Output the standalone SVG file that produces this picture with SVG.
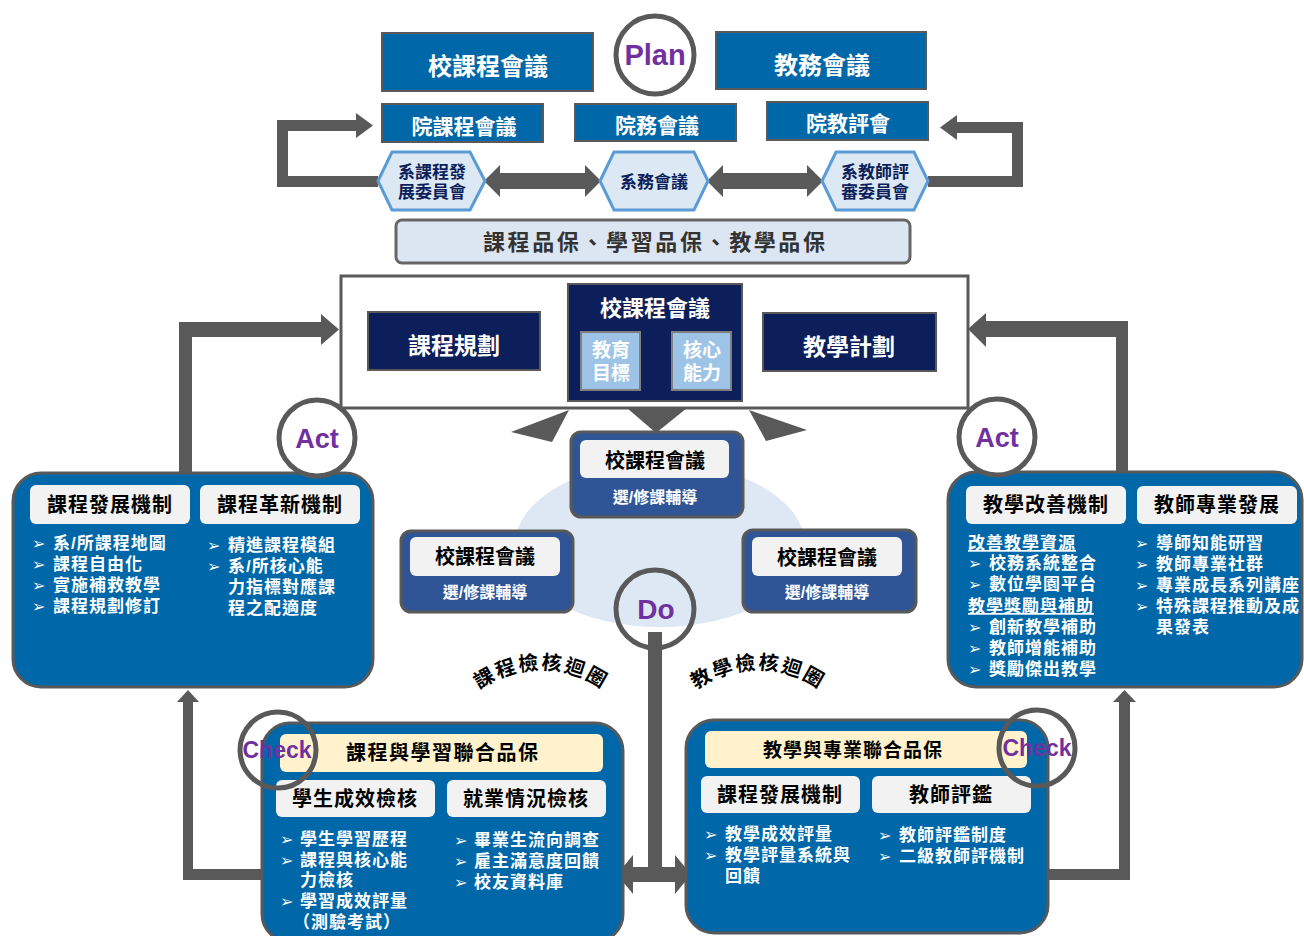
<svg xmlns="http://www.w3.org/2000/svg" width="1304" height="936" viewBox="0 0 1304 936">
<defs>
<style>
.t{font-family:"Liberation Sans","Noto Sans CJK TC",sans-serif;font-weight:bold}
.w{fill:#ffffff}
.k{fill:#000000}
.mid{text-anchor:middle}
.blue{fill:#0068a8;stroke:#595959;stroke-width:2}
.navy{fill:#0c1f5b;stroke:#595959;stroke-width:2}
.hex{fill:#dde8f5;stroke:#5b9bd5;stroke-width:3}
.hext{fill:#0c1f5b;font-size:17px}
.big{fill:#0068a8;stroke:#595959;stroke-width:3}
.hdr{fill:#f2f2f2}
.tan{fill:#fff2cc}
.med{fill:#2f5597;stroke:#595959;stroke-width:3}
.li{font-size:17px;fill:#ffffff;letter-spacing:1px}
.hd{font-size:20px;fill:#000000;letter-spacing:1px;text-anchor:middle}
.bu{font-family:"DejaVu Sans",sans-serif;font-size:16px;fill:#ffffff}
.ring{fill:none;stroke:#595959;stroke-width:5}
.ringw{fill:#ffffff;stroke:#595959;stroke-width:5}
.pdca{font-family:"Liberation Sans",Arial,sans-serif;font-weight:bold;fill:#7030a0;text-anchor:middle}
.g{fill:#595959}
.arc{font-size:20px;fill:#000000;letter-spacing:2px}
</style>
<path id="arcL" d="M 462 705 A 106 106 0 0 1 620 705" fill="none"/>
<path id="arcR" d="M 679 705 A 106 106 0 0 1 837 705" fill="none"/>
</defs>
<rect width="1304" height="936" fill="#ffffff"/>

<ellipse cx="660" cy="545" rx="145" ry="82" fill="#dde8f4"/>

<g id="connectors">
<rect class="g" x="277" y="176" width="101" height="11"/>
<rect class="g" x="277" y="120" width="11" height="67"/>
<rect class="g" x="277" y="120" width="81" height="11"/>
<polygon class="g" points="356,113 373,125.5 356,138"/>
<rect class="g" x="928" y="176" width="95" height="11"/>
<rect class="g" x="1012" y="122" width="11" height="65"/>
<rect class="g" x="955" y="122" width="68" height="11"/>
<polygon class="g" points="957,115 940,127.5 957,140"/>
<polygon class="g" points="484,181 500,165 500,173 585,173 585,165 601,181 585,197 585,189 500,189 500,197"/>
<polygon class="g" points="707,181 723,165 723,173 807,173 807,165 823,181 807,197 807,189 723,189 723,197"/>
<polygon class="g" points="511,432 569,410 552,442"/>
<polygon class="g" points="627,408 687,408 656,433"/>
<polygon class="g" points="749,410 807,430 766,441"/>
<rect class="g" x="179" y="322" width="13" height="152"/>
<rect class="g" x="179" y="322" width="144" height="15"/>
<polygon class="g" points="321,314 339,329.5 321,345"/>
<rect class="g" x="1116" y="321" width="12" height="153"/>
<rect class="g" x="984" y="321" width="144" height="16"/>
<polygon class="g" points="986,313 968,329 986,347"/>
<rect class="g" x="183" y="700" width="10" height="180"/>
<rect class="g" x="183" y="869" width="80" height="11"/>
<polygon class="g" points="177,702 188,690 199,702"/>
<rect class="g" x="1119" y="700" width="11" height="180"/>
<rect class="g" x="1047" y="869" width="83" height="11"/>
<polygon class="g" points="1113,702 1124.5,690 1136,702"/>
<rect class="g" x="648" y="632" width="14" height="240"/>
<polygon class="g" points="617,874.5 633,855 633,867 675,867 675,855 691,874.5 675,894 675,882 633,882 633,894"/>
</g>

<g id="plan-circle">
<circle class="ringw" cx="655" cy="55" r="39"/>
<text class="pdca" x="655" y="65" font-size="29">Plan</text>
</g>
<g id="school-curriculum-top">
<rect class="blue" x="382" y="33" width="211" height="58"/>
<text class="t w mid" x="488" y="75" font-size="24">校課程會議</text>
</g>
<g id="academic-affairs">
<rect class="blue" x="716" y="32" width="210" height="57"/>
<text class="t w mid" x="822" y="74" font-size="24">教務會議</text>
</g>
<g id="college-curriculum">
<rect class="blue" x="382" y="104" width="161" height="38"/>
<text class="t w mid" x="464" y="134" font-size="21">院課程會議</text>
</g>
<g id="college-affairs">
<rect class="blue" x="575" y="104" width="161" height="37"/>
<text class="t w mid" x="657" y="133" font-size="21">院務會議</text>
</g>
<g id="college-review">
<rect class="blue" x="767" y="102" width="161" height="38"/>
<text class="t w mid" x="848" y="131" font-size="21">院教評會</text>
</g>
<g id="dept-curriculum">
<polygon class="hex" points="378,181 392,152 470,152 485,181 470,210 392,210"/>
<text class="t hext mid" x="432" y="178">系課程發</text>
<text class="t hext mid" x="432" y="198">展委員會</text>
</g>
<g id="dept-affairs">
<polygon class="hex" points="600,181 614,152 694,152 708,181 694,210 614,210"/>
<text class="t hext mid" x="654" y="188">系務會議</text>
</g>
<g id="dept-review">
<polygon class="hex" points="822,181 836,152 914,152 928,181 914,210 836,210"/>
<text class="t hext mid" x="875" y="178">系教師評</text>
<text class="t hext mid" x="875" y="198">審委員會</text>
</g>
<g id="quality-bar">
<rect x="396" y="220" width="514" height="43" rx="6" fill="#dce6f2" stroke="#666666" stroke-width="3"/>
<text class="t mid" x="654" y="250" font-size="22" fill="#333333" textLength="342" lengthAdjust="spacing">課程品保、學習品保、教學品保</text>
</g>

<g id="plan-frame">
<rect x="341" y="276" width="627" height="132" fill="#ffffff" stroke="#595959" stroke-width="3"/>
</g>
<g id="curriculum-planning">
<rect class="navy" x="368" y="312" width="172" height="58"/>
<text class="t w mid" x="454" y="354" font-size="23">課程規劃</text>
</g>
<g id="school-curriculum-center">
<rect class="navy" x="568" y="284" width="174" height="117"/>
<text class="t w mid" x="655" y="316" font-size="22">校課程會議</text>
<rect x="581" y="332" width="59" height="58" fill="#9dc3e6" stroke="#7f7f7f" stroke-width="2"/>
<text class="t w mid" x="611" y="357" font-size="19">教育</text>
<text class="t w mid" x="611" y="380" font-size="19">目標</text>
<rect x="672" y="332" width="59" height="58" fill="#9dc3e6" stroke="#7f7f7f" stroke-width="2"/>
<text class="t w mid" x="702" y="357" font-size="19">核心</text>
<text class="t w mid" x="702" y="380" font-size="19">能力</text>
</g>
<g id="teaching-plan">
<rect class="navy" x="763" y="313" width="173" height="58"/>
<text class="t w mid" x="849" y="355" font-size="23">教學計劃</text>
</g>

<g id="advising-center">
<rect class="med" x="571" y="432" width="172" height="85" rx="10"/>
<rect class="hdr" x="580" y="440" width="149" height="38" rx="6"/>
<text class="t k mid" x="655" y="468" font-size="20">校課程會議</text>
<text class="t w mid" x="655" y="503" font-size="16">選/修課輔導</text>
</g>
<g id="advising-left">
<rect class="med" x="401" y="531" width="172" height="81" rx="10"/>
<rect class="hdr" x="410" y="537" width="150" height="39" rx="6"/>
<text class="t k mid" x="485" y="564" font-size="20">校課程會議</text>
<text class="t w mid" x="485" y="598" font-size="16">選/修課輔導</text>
</g>
<g id="advising-right">
<rect class="med" x="743" y="530" width="173" height="82" rx="10"/>
<rect class="hdr" x="752" y="537" width="150" height="39" rx="6"/>
<text class="t k mid" x="827" y="565" font-size="20">校課程會議</text>
<text class="t w mid" x="827" y="598" font-size="16">選/修課輔導</text>
</g>
<g id="do-circle">
<circle class="ring" cx="655" cy="609" r="39"/>
<text class="pdca" x="656" y="619" font-size="28">Do</text>
</g>
<g id="loop-labels">
<text class="t arc"><textPath href="#arcL" startOffset="50%" text-anchor="middle">課程檢核迴圈</textPath></text>
<text class="t arc"><textPath href="#arcR" startOffset="50%" text-anchor="middle">教學檢核迴圈</textPath></text>
</g>

<g id="act-left-box">
<rect class="big" x="13" y="473" width="360" height="214" rx="28"/>
<rect class="hdr" x="30" y="485" width="160" height="39" rx="6"/>
<text class="t hd" x="110" y="512">課程發展機制</text>
<rect class="hdr" x="200" y="485" width="160" height="39" rx="6"/>
<text class="t hd" x="280" y="512">課程革新機制</text>
<text class="bu" x="32" y="549">➢</text><text class="t li" x="53" y="549">系/所課程地圖</text>
<text class="bu" x="32" y="570">➢</text><text class="t li" x="53" y="570">課程自由化</text>
<text class="bu" x="32" y="591">➢</text><text class="t li" x="53" y="591">實施補救教學</text>
<text class="bu" x="32" y="612">➢</text><text class="t li" x="53" y="612">課程規劃修訂</text>
<text class="bu" x="207" y="551">➢</text><text class="t li" x="228" y="551">精進課程模組</text>
<text class="bu" x="207" y="572">➢</text><text class="t li" x="228" y="572">系/所核心能</text>
<text class="t li" x="228" y="593">力指標對應課</text>
<text class="t li" x="228" y="614">程之配適度</text>
</g>
<g id="act-left">
<circle class="ringw" cx="317" cy="438" r="38"/>
<text class="pdca" x="317" y="448" font-size="27">Act</text>
</g>

<g id="act-right-box">
<rect class="big" x="948" y="472" width="354" height="215" rx="28"/>
<rect class="hdr" x="966" y="486" width="160" height="38" rx="6"/>
<text class="t hd" x="1046" y="512">教學改善機制</text>
<rect class="hdr" x="1137" y="486" width="160" height="38" rx="6"/>
<text class="t hd" x="1217" y="512">教師專業發展</text>
<text class="t li" x="968" y="549" text-decoration="underline">改善教學資源</text>
<text class="bu" x="968" y="569">➢</text><text class="t li" x="989" y="569">校務系統整合</text>
<text class="bu" x="968" y="590">➢</text><text class="t li" x="989" y="590">數位學園平台</text>
<text class="t li" x="968" y="612" text-decoration="underline">教學獎勵與補助</text>
<text class="bu" x="968" y="633">➢</text><text class="t li" x="989" y="633">創新教學補助</text>
<text class="bu" x="968" y="654">➢</text><text class="t li" x="989" y="654">教師增能補助</text>
<text class="bu" x="968" y="675">➢</text><text class="t li" x="989" y="675">獎勵傑出教學</text>
<text class="bu" x="1135" y="549">➢</text><text class="t li" x="1156" y="549">導師知能研習</text>
<text class="bu" x="1135" y="570">➢</text><text class="t li" x="1156" y="570">教師專業社群</text>
<text class="bu" x="1135" y="591">➢</text><text class="t li" x="1156" y="591">專業成長系列講座</text>
<text class="bu" x="1135" y="612">➢</text><text class="t li" x="1156" y="612">特殊課程推動及成</text>
<text class="t li" x="1156" y="633">果發表</text>
</g>
<g id="act-right">
<circle class="ringw" cx="997" cy="437" r="38"/>
<text class="pdca" x="997" y="447" font-size="27">Act</text>
</g>

<g id="check-left-box">
<rect class="big" x="262" y="723" width="361" height="219" rx="28"/>
<rect class="tan" x="280" y="734" width="323" height="38" rx="6"/>
<text class="t k mid" x="442" y="760" font-size="20" textLength="192" lengthAdjust="spacing">課程與學習聯合品保</text>
<rect class="hdr" x="276" y="780" width="159" height="37" rx="6"/>
<text class="t hd" x="355" y="806">學生成效檢核</text>
<rect class="hdr" x="447" y="780" width="159" height="37" rx="6"/>
<text class="t hd" x="526" y="806">就業情況檢核</text>
<text class="bu" x="280" y="845">➢</text><text class="t li" x="300" y="845">學生學習歷程</text>
<text class="bu" x="280" y="866">➢</text><text class="t li" x="300" y="866">課程與核心能</text>
<text class="t li" x="300" y="886">力檢核</text>
<text class="bu" x="280" y="907">➢</text><text class="t li" x="300" y="907">學習成效評量</text>
<text class="t li" x="293" y="928">（測驗考試）</text>
<text class="bu" x="454" y="846">➢</text><text class="t li" x="474" y="846">畢業生流向調查</text>
<text class="bu" x="454" y="867">➢</text><text class="t li" x="474" y="867">雇主滿意度回饋</text>
<text class="bu" x="454" y="888">➢</text><text class="t li" x="474" y="888">校友資料庫</text>
</g>
<g id="check-left">
<circle class="ring" cx="278" cy="750" r="38"/>
<text class="pdca" x="277" y="758" font-size="23">Check</text>
</g>

<g id="check-right-box">
<rect class="big" x="686" y="720" width="362" height="213" rx="28"/>
<rect class="tan" x="705" y="731" width="322" height="37" rx="6"/>
<text class="t k mid" x="853" y="757" font-size="19" letter-spacing="1">教學與專業聯合品保</text>
<rect class="hdr" x="701" y="776" width="159" height="37" rx="6"/>
<text class="t hd" x="780" y="802">課程發展機制</text>
<rect class="hdr" x="872" y="776" width="159" height="37" rx="6"/>
<text class="t hd" x="951" y="802">教師評鑑</text>
<text class="bu" x="704" y="840">➢</text><text class="t li" x="725" y="840">教學成效評量</text>
<text class="bu" x="704" y="861">➢</text><text class="t li" x="725" y="861">教學評量系統與</text>
<text class="t li" x="725" y="882">回饋</text>
<text class="bu" x="878" y="841">➢</text><text class="t li" x="899" y="841">教師評鑑制度</text>
<text class="bu" x="878" y="862">➢</text><text class="t li" x="899" y="862">二級教師評機制</text>
</g>
<g id="check-right">
<circle class="ring" cx="1037" cy="748" r="38"/>
<text class="pdca" x="1037" y="756" font-size="23">Check</text>
</g>
</svg>
